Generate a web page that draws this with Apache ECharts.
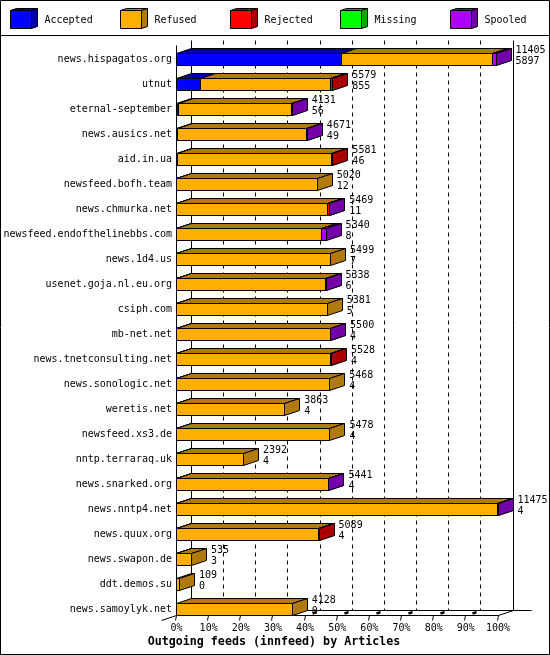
<!DOCTYPE html>
<html><head><meta charset="utf-8">
<style>html,body{margin:0;padding:0;background:#fff}#c{width:550px;height:655px}</style>
<script src="https://cdn.jsdelivr.net/npm/echarts@6/dist/echarts.min.js"></script>
</head><body><div id="c"></div>
<script>
const hosts = ['news.hispagatos.org','utnut','eternal-september','news.ausics.net','aid.in.ua','newsfeed.bofh.team','news.chmurka.net','newsfeed.endofthelinebbs.com','news.1d4.us','usenet.goja.nl.eu.org','csiph.com','mb-net.net','news.tnetconsulting.net','news.sonologic.net','weretis.net','newsfeed.xs3.de','nntp.terraraq.uk','news.snarked.org','news.nntp4.net','news.quux.org','news.swapon.de','ddt.demos.su','news.samoylyk.net'];
const totals   = [11405,5579,4131,4671,5581,5020,5469,5340,5499,5338,5381,5500,5528,5468,3863,5478,2392,5441,11475,5089,535,109,4128];
const accepted = [5897,855,56,49,46,12,11,8,7,6,5,4,4,4,4,4,4,4,4,4,3,0,0];
const refused  = [5368,4624,4055,4607,5485,5008,5378,5172,5492,5317,5376,5481,5509,5464,3859,5474,2388,5422,11456,5070,532,109,4128];
const rejected = [0,100,0,0,50,0,60,0,0,0,0,0,15,0,0,0,0,0,0,15,0,0,0];
const missing  = [0,0,0,0,0,0,0,0,0,0,0,0,0,0,0,0,0,0,0,0,0,0,0];
const spooled  = [140,0,20,15,0,0,20,160,0,15,0,15,0,0,0,0,0,15,15,0,0,0,0];
const seriesNames = ['Accepted','Refused','Rejected','Missing','Spooled'];
const frontColors = ['#0000ff','#ffaf00','#ff0000','#00ff00','#af00ff'];
const darkColors  = ['#0000aa','#b07a0c','#aa0000','#00aa00','#7400aa'];
const xTickLabels = ['0%','10%','20%','30%','40%','50%','60%','70%','80%','90%','100%'];
const xTickStep = 1147.5;
const xMax = 11475;
const titleText = 'Outgoing feeds (innfeed) by Articles';

const FONT = '"DejaVu Sans Mono"';
const DX = 15, DY = -5, HALF = 6;
const snap = v => Math.floor(v) + 0.5;
const stroke = {stroke:'#000', lineWidth:1};
const seriesValues = [accepted, refused, rejected, missing, spooled];

function poly(points, fill){
  return {type:'polygon', shape:{points}, style:{fill, stroke:'#000', lineWidth:1, lineJoin:'miter'}, silent:true};
}
function line(x1,y1,x2,y2,extra){
  return {type:'line', shape:{x1,y1,x2,y2}, style:Object.assign({}, stroke, extra||{}), silent:true};
}

function renderSegment(k){
  return function(params, api){
    const row = api.value(0), a = api.value(1), b = api.value(2);
    const p0 = api.coord([a,row]), p1 = api.coord([b,row]);
    const x0 = snap(p0[0]), x1 = snap(p1[0]), top = snap(p0[1]-HALF), bot = top + 2*HALF;
    return {type:'group', children:[
      poly([[x0,top],[x1,top],[x1+DX,top+DY],[x0+DX,top+DY]], darkColors[k]),
      poly([[x1,top],[x1+DX,top+DY],[x1+DX,bot+DY],[x1,bot]], darkColors[k]),
      poly([[x0,top],[x1,top],[x1,bot],[x0,bot]], frontColors[k])
    ]};
  };
}
function renderFrame(params, api){
  const v = api.value(0), i = params.dataIndex;
  const yFirst = api.coord([0,0])[1], yLast = api.coord([0,hosts.length-1])[1];
  const x = snap(api.coord([v,0])[0]);
  const yFront = snap(yLast+6), yBack = yFront + DY, yTop = snap(yFirst-19);
  const ch = [];
  ch.push(line(x+DX,yTop,x+DX,yBack, (i===0||i===xTickLabels.length-1)?{}:{lineDash:[4,4]}));
  ch.push(line(x,yFront,x-1,yFront+5));
  if(i>0 && i<xTickLabels.length-1) ch.push(line(x+7,yFront-2,x+11,yFront-3.4,{lineWidth:2.4}));
  if(i===0){
    ch.push(line(x,yTop+DY*-1,x,yFront));
    ch.push(line(x,yFront,x-DX,yFront-DY));
    ch.push(line(x+DX,yBack,x+DX+340,yBack));
  }
  if(i===xTickLabels.length-1){
    ch.push(line(x,yFront,x+DX,yBack));
    ch.push(line(x-321.5,yFront,x,yFront));
  }
  return {type:'group', children:ch};
}
function renderLabels(params, api){
  const row = api.value(0), total = api.value(1), acc = api.value(2);
  const p = api.coord([total,row]);
  const x = p[0] + DX + 4.5;
  const mk = (t,y)=>({type:'text', style:{text:String(t), x, y, font:'10px '+FONT, fill:'#000', textAlign:'left', textVerticalAlign:'middle'}, silent:true});
  return {type:'group', children:[mk(total,p[1]-8.5), mk(acc,p[1]+2.5)]};
}

const series = [];
series.push({type:'custom', coordinateSystem:'cartesian2d', clip:false, z:1, silent:true, animation:false,
  data:xTickLabels.map((_,i)=>[i*xTickStep]), encode:{x:0}, renderItem:renderFrame});
seriesNames.forEach((name,k)=>{
  const data = [];
  hosts.forEach((h,i)=>{
    let start = 0;
    for(let j=0;j<k;j++) start += seriesValues[j][i];
    const v = seriesValues[k][i];
    if(v>0) data.push([i,start,start+v]);
  });
  series.push({type:'custom', name, coordinateSystem:'cartesian2d', clip:false, z:2+k, silent:true, animation:false,
    data, encode:{x:[1,2], y:0}, renderItem:renderSegment(k)});
});
series.push({type:'custom', coordinateSystem:'cartesian2d', clip:false, z:10, silent:true, animation:false,
  data:hosts.map((h,i)=>[i,totals[i],accepted[i]]), encode:{x:1,y:0}, renderItem:renderLabels});

const legendGraphics = [];
seriesNames.forEach((name,k)=>{
  const x = 10.5 + 110*k, y = 10.5, w = 21, h = 18, dx = 6, dy = -2;
  legendGraphics.push({type:'polygon', shape:{points:[[x,y],[x+w,y],[x+w+dx,y+dy],[x+dx,y+dy]]}, style:{fill:darkColors[k],stroke:'#000',lineWidth:1}, silent:true});
  legendGraphics.push({type:'polygon', shape:{points:[[x+w,y],[x+w+dx,y+dy],[x+w+dx,y+h+dy],[x+w,y+h]]}, style:{fill:darkColors[k],stroke:'#000',lineWidth:1}, silent:true});
  legendGraphics.push({type:'rect', shape:{x,y,width:w,height:h}, style:{fill:frontColors[k],stroke:'#000',lineWidth:1}, silent:true});
  legendGraphics.push({type:'text', style:{text:name, x:44.5+110*k, y:20.5, font:'10px '+FONT, fill:'#000', textAlign:'left', textVerticalAlign:'middle'}, silent:true});
});
legendGraphics.push({type:'rect', shape:{x:0.5,y:0.5,width:549,height:654}, style:{fill:'none',stroke:'#000',lineWidth:1}, silent:true});
legendGraphics.push({type:'line', shape:{x1:0,y1:35.5,x2:550,y2:35.5}, style:{stroke:'#000',lineWidth:1}, silent:true});

const chart = echarts.init(document.getElementById('c'), null, {renderer:'canvas', width:550, height:655});
chart.setOption({
  animation:false,
  backgroundColor:'#fff',
  title:{text:titleText, left:274, top:635, textAlign:'center', padding:0, itemGap:0,
    textStyle:{fontFamily:FONT, fontWeight:'bold', fontSize:11.67, color:'#000', lineHeight:13}},
  grid:{left:176.5, width:321.5, top:46.5, height:575, containLabel:false, show:false},
  xAxis:{type:'value', min:0, max:xMax, interval:xTickStep,
    axisLine:{show:false}, axisTick:{show:false}, splitLine:{show:false},
    axisLabel:{margin:2, fontFamily:FONT, fontSize:10, color:'#000', hideOverlap:false,
      showMinLabel:true, showMaxLabel:true,
      formatter:(v)=>xTickLabels[Math.round(v/xTickStep)]}},
  yAxis:{type:'category', inverse:true, data:hosts,
    axisLine:{show:false}, axisTick:{show:false}, splitLine:{show:false},
    axisLabel:{margin:4.5, interval:0, padding:[2,0,0,0], fontFamily:FONT, fontSize:10, color:'#000'}},
  series,
  graphic:{elements:legendGraphics}
});
</script></body></html>
